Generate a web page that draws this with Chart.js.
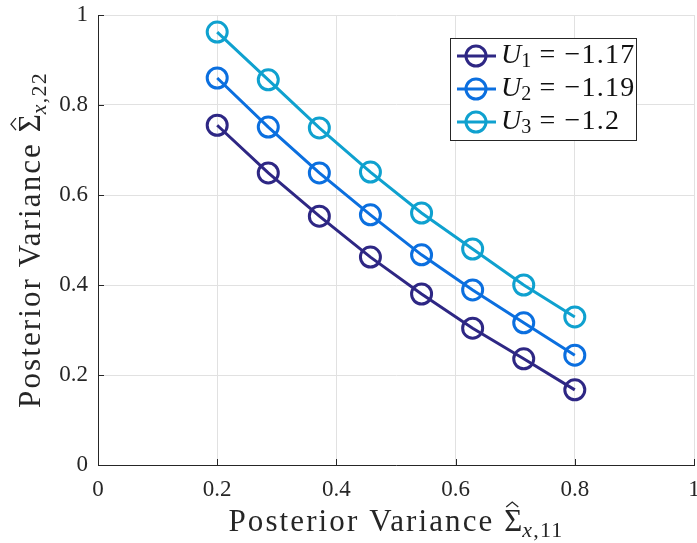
<!DOCTYPE html>
<html>
<head>
<meta charset="utf-8">
<script src="https://cdn.jsdelivr.net/npm/chart.js@4"></script>
<style>
  body { margin: 0; background: #fff; }
  #plot { display: block; }
</style>
</head>
<body>
<canvas id="plot" width="697" height="543"></canvas>
<script>
// diagonal entries of the posterior covariance
const xValues = [0.2, 0.2857, 0.3714, 0.4571, 0.5429, 0.6286, 0.7143, 0.8];
const seriesU1 = [0.755, 0.649, 0.553, 0.462, 0.380, 0.304, 0.236, 0.167];
const seriesU2 = [0.860, 0.751, 0.649, 0.556, 0.467, 0.389, 0.316, 0.244];
const seriesU3 = [0.962, 0.856, 0.749, 0.651, 0.560, 0.480, 0.400, 0.329];
const uIndex = ['1', '2', '3'];
const uValues = ['\u22121.17', '\u22121.19', '\u22121.2'];
const tickValues = [0, 0.2, 0.4, 0.6, 0.8, 1];

const colors = ['#2e2784', '#0b6fdf', '#0fa1cf'];
const serif = '"Liberation Serif", "DejaVu Serif", serif';
const axisColor = '#262626';

function toPoints(ys) {
  return ys.map((y, i) => ({ x: xValues[i], y: y }));
}

const datasets = [seriesU1, seriesU2, seriesU3].map((ys, i) => ({
  label: 'U' + uIndex[i] + ' = ' + uValues[i],
  data: toPoints(ys),
  borderColor: colors[i],
  backgroundColor: 'rgba(0,0,0,0)',
  borderWidth: 3,
  pointRadius: 10,
  pointBorderWidth: 3,
  pointBackgroundColor: 'rgba(0,0,0,0)',
  pointBorderColor: colors[i],
  tension: 0
}));

// draws a list of text runs left to right, returns total width
function drawRuns(ctx, runs, x, y, measureOnly) {
  let cx = x;
  runs.forEach(r => {
    ctx.font = r.font;
    ctx.letterSpacing = r.ls || '0px';
    const w = ctx.measureText(r.text).width;
    if (!measureOnly) {
      ctx.fillText(r.text, cx, y + (r.dy || 0));
      if (r.hat) {
        // circumflex over the sigma
        const mid = cx + w / 2 - 1, top = y - r.cap;
        ctx.save();
        ctx.strokeStyle = ctx.fillStyle;
        ctx.lineWidth = 1.3;
        ctx.beginPath();
        ctx.moveTo(mid - 6, top - 3);
        ctx.lineTo(mid, top - 8);
        ctx.lineTo(mid + 6, top - 3);
        ctx.stroke();
        ctx.restore();
      }
    }
    cx += w;
  });
  ctx.letterSpacing = '0px';
  return cx - x;
}

function sigmaTitle(sub) {
  return [
    { text: 'Posterior Variance ', font: '31px ' + serif, ls: '2.1px' },
    { text: '\u03a3', font: '31px ' + serif, hat: true, cap: 21 },
    { text: 'x', font: 'italic 22px ' + serif, dy: 6, ls: '1.2px' },
    { text: ',' + sub, font: '22px ' + serif, dy: 6, ls: '1.2px' }
  ];
}

// no extra room for the end labels, keep the plot box fixed
function noLabelPadding(s) {
  s.paddingLeft = 0; s.paddingRight = 0;
  s.paddingTop = 0; s.paddingBottom = 0;
}

const decorations = {
  id: 'decorations',
  afterDraw(chart) {
    const ctx = chart.ctx;
    const area = chart.chartArea;
    const xs = chart.scales.x, ys = chart.scales.y;
    ctx.save();

    // inward tick marks
    ctx.strokeStyle = axisColor;
    ctx.lineWidth = 1;
    tickValues.forEach(v => {
      const px = Math.round(xs.getPixelForValue(v)) + 0.5;
      ctx.beginPath();
      ctx.moveTo(px, area.bottom);
      ctx.lineTo(px, area.bottom - 6);
      ctx.stroke();
      const py = Math.round(ys.getPixelForValue(v)) + 0.5;
      ctx.beginPath();
      ctx.moveTo(area.left, py);
      ctx.lineTo(area.left + 6, py);
      ctx.stroke();
    });

    // axis titles
    ctx.fillStyle = axisColor;
    ctx.textBaseline = 'alphabetic';
    ctx.textAlign = 'left';
    const xt = sigmaTitle('11');
    const xw = drawRuns(ctx, xt, 0, 0, true);
    drawRuns(ctx, xt, (area.left + area.right) / 2 - xw / 2, 531);

    const yt = sigmaTitle('22');
    const yw = drawRuns(ctx, yt, 0, 0, true);
    ctx.save();
    ctx.translate(40, (area.top + area.bottom) / 2);
    ctx.rotate(-Math.PI / 2);
    drawRuns(ctx, yt, -yw / 2, 0);
    ctx.restore();

    // legend box
    const lx = 450, ly = 38, lw = 186, lh = 102;
    ctx.fillStyle = '#fff';
    ctx.fillRect(lx, ly, lw, lh);
    ctx.strokeStyle = axisColor;
    ctx.lineWidth = 1;
    ctx.strokeRect(lx + 0.5, ly + 0.5, lw, lh);
    chart.data.datasets.forEach((ds, i) => {
      const cy = ly + 18 + i * 33;
      ctx.strokeStyle = ds.borderColor;
      ctx.lineWidth = 3;
      ctx.beginPath();
      ctx.moveTo(lx + 7, cy);
      ctx.lineTo(lx + 46, cy);
      ctx.stroke();
      ctx.beginPath();
      ctx.arc(lx + 26, cy, 10, 0, Math.PI * 2);
      ctx.stroke();
      ctx.fillStyle = '#111';
      drawRuns(ctx, [
        { text: 'U', font: 'italic 28px ' + serif },
        { text: uIndex[i], font: '20px ' + serif, dy: 4 },
        { text: ' = ' + uValues[i], font: '28px ' + serif, ls: '1.2px' }
      ], lx + 51, cy + 7);
    });
    ctx.restore();
  }
};

new Chart(document.getElementById('plot').getContext('2d'), {
  type: 'line',
  data: { datasets: datasets },
  options: {
    responsive: false,
    animation: false,
    layout: { autoPadding: false, padding: { top: 15, right: 3, left: 0, bottom: 0 } },
    plugins: { legend: { display: false }, tooltip: { enabled: false } },
    scales: {
      x: {
        type: 'linear',
        min: 0, max: 1,
        afterBuildTicks: s => { s.ticks = tickValues.map(v => ({ value: v })); },
        afterFit: s => { s.height = 78; noLabelPadding(s); },
        grid: { color: '#e1e1e1', lineWidth: 1, drawTicks: false },
        border: { color: axisColor, width: 1 },
        ticks: {
          color: axisColor,
          padding: 11,
          maxRotation: 0,
          font: { family: serif, size: 23 },
          callback: v => String(v)
        }
      },
      y: {
        type: 'linear',
        min: 0, max: 1,
        afterBuildTicks: s => { s.ticks = tickValues.map(v => ({ value: v })); },
        afterFit: s => { s.width = 98; noLabelPadding(s); },
        grid: { color: '#e1e1e1', lineWidth: 1, drawTicks: false },
        border: { color: axisColor, width: 1 },
        ticks: {
          color: axisColor,
          padding: 10,
          font: { family: serif, size: 23 },
          callback: v => String(v)
        }
      }
    }
  },
  plugins: [decorations]
});
</script>
</body>
</html>
